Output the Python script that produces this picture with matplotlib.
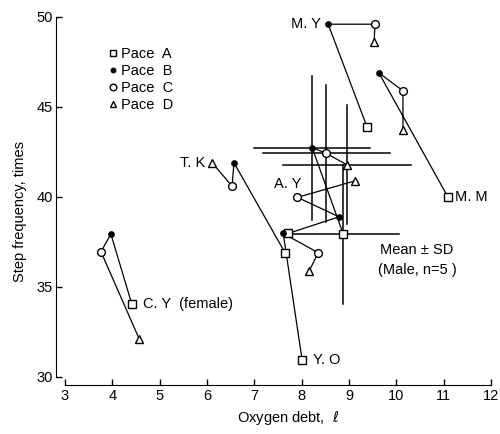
import matplotlib.pyplot as plt
from matplotlib.lines import Line2D

plt.rcParams['font.family'] = ['Liberation Sans', 'DejaVu Sans']

# subjects, values (oxygen debt in l, step frequency in times)
subjects = ["M. Y", "M. M", "T. K", "A. Y", "Y. O", "C. Y  (female)"]
debt_a = [9.38, 11.09, 7.65, 7.72, 8.01, 4.41]
freq_a = [43.9, 40.0, 36.9, 37.98, 30.94, 34.06]
debt_b = [8.56, 9.63, 6.57, 8.79, 7.61, 3.97]
freq_b = [49.6, 46.9, 41.9, 38.9, 37.98, 37.94]
debt_c = [9.55, 10.14, 6.53, 7.91, 8.35, 3.76]
freq_c = [49.6, 45.9, 40.6, 39.98, 36.9, 36.96]
debt_d = [9.53, 10.14, 6.11, 9.13, 8.16, 4.57]
freq_d = [48.6, 43.7, 41.9, 40.9, 35.9, 32.1]

# male means and SD for pace A..D
mean_debt = [8.88, 8.22, 8.52, 8.95]
mean_freq = [37.93, 42.75, 42.42, 41.8]
sd_debt = [1.18, 1.23, 1.34, 1.35]
sd_freq = [3.85, 4.0, 3.83, 3.3]

# where each name sits, relative to which pace point (offset in points)
label_pace = ["B", "A", "D", "C", "A", "A"]
label_off = [(-5.5, 0), (5, 0), (-5, 0), (-7, 9.5), (8, 0), (8, 0)]
label_ha = ["right", "left", "right", "center", "left", "left"]

fig = plt.figure(figsize=(5, 4.34), dpi=100)
ax = fig.add_axes([65/500, 57/434, 426/500, 360/434])

styles = {
    "A": dict(marker="s", ms=5.5, mfc="white", mec="black", mew=1.0),
    "B": dict(marker="o", ms=4.0, mfc="black", mec="black", mew=0.8),
    "C": dict(marker="o", ms=5.6, mfc="white", mec="black", mew=1.0),
    "D": dict(marker="^", ms=5.2, mfc="white", mec="black", mew=1.0),
}
pts = {"A": (debt_a, freq_a), "B": (debt_b, freq_b),
       "C": (debt_c, freq_c), "D": (debt_d, freq_d)}

# error bars of the means
for i in range(4):
    ax.plot([mean_debt[i] - sd_debt[i], mean_debt[i] + sd_debt[i]],
            [mean_freq[i], mean_freq[i]], color="black", lw=1.1, zorder=1)
    ax.plot([mean_debt[i], mean_debt[i]],
            [mean_freq[i] - sd_freq[i], mean_freq[i] + sd_freq[i]],
            color="black", lw=1.1, zorder=1)
ax.plot(mean_debt, mean_freq, color="black", lw=0.9, zorder=2)

# connect A-B-C-D for every subject
for i in range(len(subjects)):
    xs = [debt_a[i], debt_b[i], debt_c[i], debt_d[i]]
    ys = [freq_a[i], freq_b[i], freq_c[i], freq_d[i]]
    ax.plot(xs, ys, color="black", lw=0.9, zorder=2)

for k, p in enumerate("ABCD"):
    x, y = pts[p]
    ax.plot(x, y, ls="none", zorder=3, **styles[p])
    ax.plot([mean_debt[k]], [mean_freq[k]], ls="none", zorder=3, **styles[p])

for i, name in enumerate(subjects):
    x, y = pts[label_pace[i]]
    ax.annotate(name, (x[i], y[i]), xytext=label_off[i], textcoords="offset points",
                ha=label_ha[i], va="center", fontsize=10.5)

ax.text(10.44, 36.5, "Mean \u00b1 SD\n(Male, n=5 )", ha="center", va="center",
        fontsize=10.5, linespacing=1.5)

handles = [Line2D([], [], ls="none", **dict(styles[p], ms=styles[p]["ms"] * 0.85))
           for p in "ABCD"]
ax.legend(handles, ["Pace  A", "Pace  B", "Pace  C", "Pace  D"], loc="upper left",
          bbox_to_anchor=(0.104, 0.917), frameon=False, handlelength=0.5,
          handletextpad=0.3, labelspacing=0.2, borderpad=0, borderaxespad=0,
          fontsize=10.5)

ax.set_xlim(3, 12)
ax.set_ylim(30, 50)
ax.set_xticks(range(3, 13))
ax.set_yticks([30, 35, 40, 45, 50])
ax.spines["top"].set_visible(False)
ax.spines["right"].set_visible(False)
ax.spines["left"].set_position(("outward", 6.5))
ax.spines["bottom"].set_position(("outward", 6))
ax.tick_params(direction="in", length=4, width=1, labelsize=10.5)
ax.tick_params(axis="y", pad=2)
ax.tick_params(axis="x", pad=3)

ax.set_xlabel("Oxygen debt,  $\\ell$", fontsize=10.5)
ax.set_ylabel("Step frequency, times", fontsize=10.5)
ax.xaxis.set_label_coords(0.523, -0.089)
ax.yaxis.set_label_coords(-0.089, 0.46)

fig.savefig("out.png", dpi=100)
